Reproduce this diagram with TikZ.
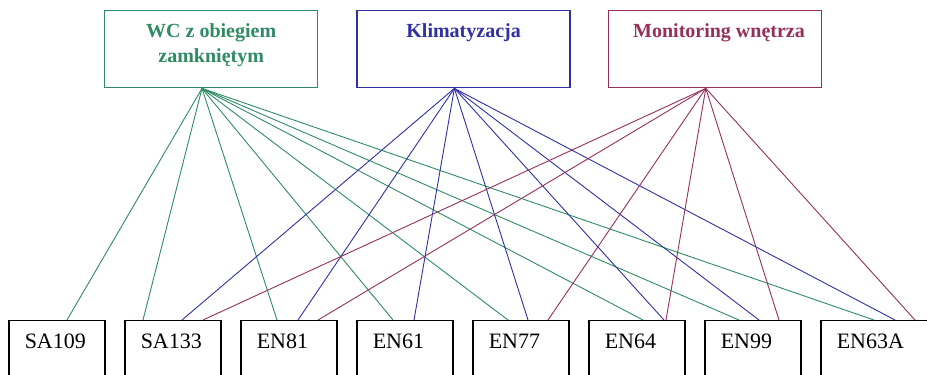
\documentclass[tikz,border=0pt]{standalone}
\usepackage{fontspec}
\setmainfont{Liberation Serif}
\usetikzlibrary{positioning}
\definecolor{wcgreen}{RGB}{46,139,100}
\definecolor{klimblue}{RGB}{48,48,165}
\definecolor{monred}{RGB}{150,48,88}

\begin{document}
\begin{tikzpicture}[
  x=1pt, y=1pt,
  groupbox/.style={draw, line width=1.4pt, minimum width=213pt, minimum height=77pt, inner sep=0pt, anchor=north west},
  grouptext/.style={font=\rmfamily\bfseries\fontsize{20}{25}\selectfont, align=center, anchor=north, inner sep=0pt},
  unitbox/.style={draw=black, line width=1.5pt, anchor=north west, align=left, text width=64pt,
    inner xsep=16pt, inner ysep=0pt, text height=28pt, text depth=60pt, font=\rmfamily\fontsize{22}{26}\selectfont},
  link/.style={line width=0.9pt},
  node distance=18.5pt
]
% frame
\path[use as bounding box, clip] (0,0) rectangle (927,375);
% groups
\node[groupbox, draw=wcgreen] (wc) at (104,365) {};
\node[groupbox, draw=klimblue, right=38pt of wc] (klim) {};
\node[groupbox, draw=monred, right=37pt of klim] (mon) {};
\node[grouptext, text=wcgreen] (wctext) at ([yshift=-13pt]wc.north) {WC z obiegiem\\zamkniętym};
\node[grouptext, text=klimblue] (klimtext) at ([yshift=-13pt]klim.north) {Klimatyzacja};
\node[grouptext, text=monred] (montext) at ([xshift=4pt, yshift=-13pt]mon.north) {Monitoring wnętrza};
% units
\node[unitbox] (sa109) at (8,55) {SA109};
\node[unitbox, right=of sa109] (sa133) {SA133};
\node[unitbox, right=of sa133] (en81) {EN81};
\node[unitbox, right=of en81] (en61) {EN61};
\node[unitbox, right=of en61] (en77) {EN77};
\node[unitbox, right=of en77] (en64) {EN64};
\node[unitbox, right=of en64] (en99) {EN99};
\node[unitbox, right=of en99, text width=76pt] (en63a) {EN63A};
% links
\coordinate (wcsrc) at ([xshift=98pt]wc.south west);
\coordinate (klimsrc) at ([xshift=98pt]klim.south west);
\coordinate (monsrc) at ([xshift=98pt]mon.south west);
\foreach \unit/\off in {sa109/59, sa133/19, en81/37, en61/37, en77/36, en64/55, en99/35, en63a/54}
  \draw[link, wcgreen] (wcsrc) -- ([xshift=\off]\unit.north west);
\foreach \unit/\off in {sa133/58, en81/58, en61/58, en77/56, en64/76, en99/55, en63a/75}
  \draw[link, klimblue] (klimsrc) -- ([xshift=\off]\unit.north west);
\foreach \unit/\off in {sa133/79, en81/78, en77/76, en64/78, en99/75, en63a/95}
  \draw[link, monred] (monsrc) -- ([xshift=\off]\unit.north west);
\end{tikzpicture}
\end{document}
